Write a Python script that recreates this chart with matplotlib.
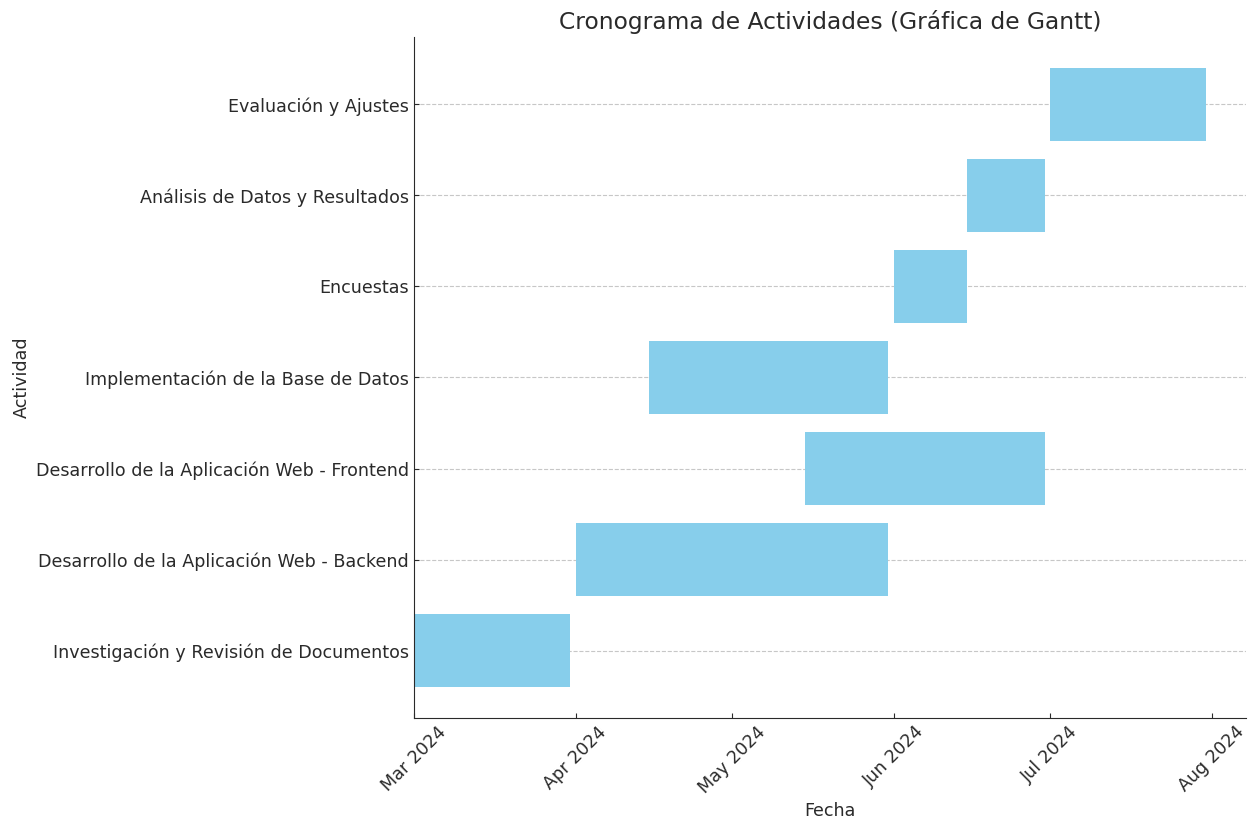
"""
Cronograma de actividades (Gantt)
"""
import pandas as pd
import matplotlib.pyplot as plt
import matplotlib.dates as mdates

# -- datos ----------------------
actividades = [
    'Investigación y Revisión de Documentos',
    'Desarrollo de la Aplicación Web - Backend',
    'Desarrollo de la Aplicación Web - Frontend',
    'Implementación de la Base de Datos',
    'Encuestas',
    'Análisis de Datos y Resultados',
    'Evaluación y Ajustes',
]
inicios = ['2024-03-01', '2024-04-01', '2024-05-15', '2024-04-15',
           '2024-06-01', '2024-06-15', '2024-07-01']
finales = ['2024-03-31', '2024-05-31', '2024-06-30', '2024-05-31',
           '2024-06-15', '2024-06-30', '2024-07-31']

inicio = pd.to_datetime(inicios)
fin = pd.to_datetime(finales)
duracion = (fin - inicio).days

plt.rcParams['font.family'] = ['DejaVu Sans']
plt.rcParams['text.color'] = '#2a2a2a'
plt.rcParams['axes.labelcolor'] = '#2a2a2a'
plt.rcParams['xtick.color'] = '#2a2a2a'
plt.rcParams['ytick.color'] = '#2a2a2a'
plt.rcParams['axes.edgecolor'] = '#2a2a2a'

fig, ax = plt.subplots(figsize=(12.53, 8.25), dpi=100)
fig.subplots_adjust(left=0.3304, right=0.9944, top=0.9552, bottom=0.1297)

ax.barh(actividades, duracion, left=mdates.date2num(inicio), color='skyblue',
        height=0.8)

ax.xaxis.set_major_locator(mdates.MonthLocator())
ax.xaxis.set_major_formatter(mdates.DateFormatter('%b %Y'))
plt.setp(ax.get_xticklabels(), rotation=45)
ax.tick_params(labelsize=12.6, direction='in')

ax.set_title('Cronograma de Actividades (Gráfica de Gantt)', fontsize=16.8)
ax.set_xlabel('Fecha', fontsize=12.6)
ax.set_ylabel('Actividad', fontsize=12.6)
ax.grid(axis='y', linestyle='--', alpha=0.7)
ax.set_axisbelow(True)
for lado in ['top', 'right']:
    ax.spines[lado].set_visible(False)

fig.savefig('out.png')
